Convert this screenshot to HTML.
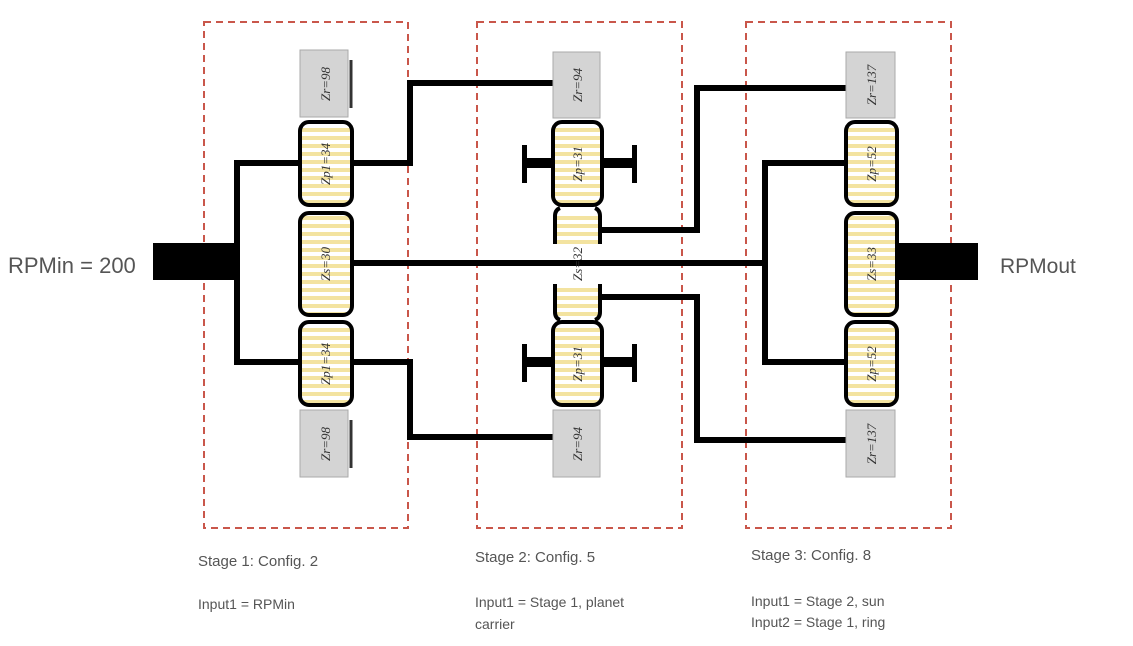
<!DOCTYPE html>
<html><head><meta charset="utf-8"><style>
html,body{margin:0;padding:0;background:#fff;}
svg{display:block;}
.lbl{font-family:"Liberation Sans",sans-serif;fill:#555;}
.gt{font-family:"Liberation Serif",serif;font-style:italic;font-size:13px;fill:#333;}
</style></head><body>
<svg width="1133" height="646" viewBox="0 0 1133 646" xmlns="http://www.w3.org/2000/svg">
<defs>
<pattern id="st" width="10" height="8" patternUnits="userSpaceOnUse">
<rect width="10" height="8" fill="#fff"/>
<rect width="10" height="4" fill="#f3e3a0"/>
</pattern>
</defs>
<rect width="1133" height="646" fill="#fff"/>

<g fill="none" stroke="#c0392b" stroke-width="2" stroke-dasharray="7,5" opacity="0.85">
<rect x="204" y="22" width="204" height="506"/>
<rect x="477" y="22" width="205" height="506"/>
<rect x="746" y="22" width="205" height="506"/>
</g>

<g fill="none" stroke="#000" stroke-width="6" stroke-linejoin="miter">
<polyline points="300,163 237,163 237,362 300,362"/>
<line x1="352" y1="263" x2="765" y2="263"/>
<polyline points="352,163 410,163 410,83 555,83"/>
<polyline points="352,362 410,362 410,437 555,437"/>
<polyline points="602,230 697,230 697,88 846,88"/>
<polyline points="602,297 697,297 697,440 846,440"/>
<polyline points="846,163 765,163 765,362 846,362"/>
</g>
<rect x="153" y="243" width="84" height="37" fill="#000"/>
<rect x="895" y="243" width="83" height="37" fill="#000"/>

<!-- Stage 1 -->
<rect x="300" y="50" width="48" height="67" fill="#d4d4d4" stroke="#aaa"/>
<rect x="300" y="410" width="48" height="67" fill="#d4d4d4" stroke="#aaa"/>
<line x1="351" y1="60" x2="351" y2="108" stroke="#333" stroke-width="3"/>
<line x1="351" y1="420" x2="351" y2="468" stroke="#333" stroke-width="3"/>
<rect x="300" y="122" width="52" height="83" rx="9" fill="url(#st)" stroke="#000" stroke-width="4"/>
<rect x="300" y="213" width="52" height="102" rx="9" fill="url(#st)" stroke="#000" stroke-width="4"/>
<rect x="300" y="322" width="52" height="83" rx="9" fill="url(#st)" stroke="#000" stroke-width="4"/>
<text class="gt" transform="translate(330,84) rotate(-90)" text-anchor="middle">Zr=98</text>
<text class="gt" transform="translate(330,164) rotate(-90)" text-anchor="middle">Zp1=34</text>
<text class="gt" transform="translate(330,264) rotate(-90)" text-anchor="middle">Zs=30</text>
<text class="gt" transform="translate(330,364) rotate(-90)" text-anchor="middle">Zp1=34</text>
<text class="gt" transform="translate(330,444) rotate(-90)" text-anchor="middle">Zr=98</text>

<!-- Stage 2 -->
<rect x="553" y="52" width="47" height="66" fill="#d4d4d4" stroke="#aaa"/>
<rect x="553" y="410" width="47" height="67" fill="#d4d4d4" stroke="#aaa"/>
<g fill="#000">
<rect x="522" y="158" width="31" height="10"/><rect x="522" y="145" width="5" height="38"/>
<rect x="602" y="158" width="33" height="10"/><rect x="632" y="145" width="5" height="38"/>
<rect x="522" y="357" width="31" height="10"/><rect x="522" y="344" width="5" height="38"/>
<rect x="602" y="357" width="33" height="10"/><rect x="632" y="344" width="5" height="38"/>
</g>
<rect x="553" y="122" width="49" height="83" rx="9" fill="url(#st)" stroke="#000" stroke-width="4"/>
<rect x="553" y="322" width="49" height="83" rx="9" fill="url(#st)" stroke="#000" stroke-width="4"/>
<rect x="555" y="212" width="45" height="32" fill="url(#st)"/>
<rect x="555" y="284" width="45" height="32" fill="url(#st)"/>
<g fill="none" stroke="#000" stroke-width="4">
<path d="M555,244 V216 Q555,210 560,208 M600,244 V216 Q600,210 595,208"/>
<path d="M555,284 V312 Q555,318 560,320 M600,284 V312 Q600,318 595,320"/>
</g>
<text class="gt" transform="translate(582,85) rotate(-90)" text-anchor="middle">Zr=94</text>
<text class="gt" transform="translate(582,164) rotate(-90)" text-anchor="middle">Zp=31</text>
<text class="gt" transform="translate(582,264) rotate(-90)" text-anchor="middle">Zs=32</text>
<text class="gt" transform="translate(582,364) rotate(-90)" text-anchor="middle">Zp=31</text>
<text class="gt" transform="translate(582,444) rotate(-90)" text-anchor="middle">Zr=94</text>

<!-- Stage 3 -->
<rect x="846" y="52" width="49" height="66" fill="#d4d4d4" stroke="#aaa"/>
<rect x="846" y="410" width="49" height="67" fill="#d4d4d4" stroke="#aaa"/>
<rect x="846" y="122" width="51" height="83" rx="9" fill="url(#st)" stroke="#000" stroke-width="4"/>
<rect x="846" y="213" width="51" height="102" rx="9" fill="url(#st)" stroke="#000" stroke-width="4"/>
<rect x="846" y="322" width="51" height="83" rx="9" fill="url(#st)" stroke="#000" stroke-width="4"/>
<text class="gt" transform="translate(876,85) rotate(-90)" text-anchor="middle">Zr=137</text>
<text class="gt" transform="translate(876,164) rotate(-90)" text-anchor="middle">Zp=52</text>
<text class="gt" transform="translate(876,264) rotate(-90)" text-anchor="middle">Zs=33</text>
<text class="gt" transform="translate(876,364) rotate(-90)" text-anchor="middle">Zp=52</text>
<text class="gt" transform="translate(876,444) rotate(-90)" text-anchor="middle">Zr=137</text>

<text class="lbl" x="8" y="273" font-size="22">RPMin = 200</text>
<text class="lbl" x="1000" y="273" font-size="21">RPMout</text>
<text class="lbl" x="198" y="566" font-size="15">Stage 1: Config. 2</text>
<text class="lbl" x="198" y="609" font-size="14">Input1 = RPMin</text>
<text class="lbl" x="475" y="562" font-size="15">Stage 2: Config. 5</text>
<text class="lbl" x="475" y="607" font-size="14">Input1 = Stage 1, planet</text>
<text class="lbl" x="475" y="629" font-size="14">carrier</text>
<text class="lbl" x="751" y="560" font-size="15">Stage 3: Config. 8</text>
<text class="lbl" x="751" y="606" font-size="14">Input1 = Stage 2, sun</text>
<text class="lbl" x="751" y="627" font-size="14">Input2 = Stage 1, ring</text>
</svg>
</body></html>
